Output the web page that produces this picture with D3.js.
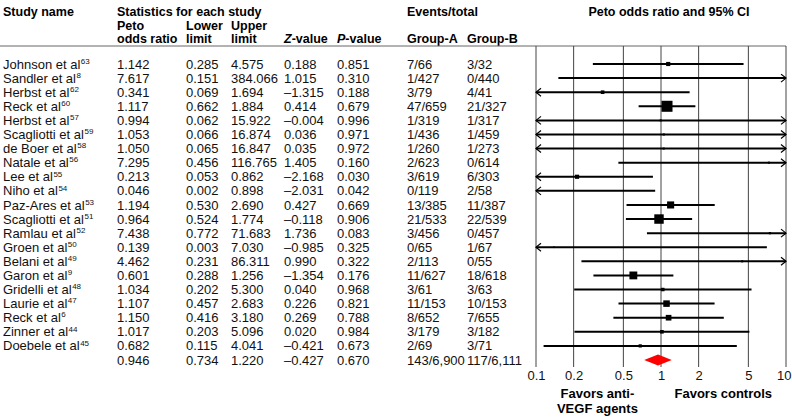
<!DOCTYPE html>
<html>
<head>
<meta charset="utf-8">
<script src="https://cdn.jsdelivr.net/npm/d3@7"></script>
<style>
  body { margin: 0; background: #fff; }
  svg { font-family: "Liberation Sans", Arial, sans-serif; }
  .hdr { font-weight: bold; }
</style>
</head>
<body>
<svg id="chart" width="792" height="417"></svg>
<script>
const studies = ['Johnson et al', 'Sandler et al', 'Herbst et al', 'Reck et al', 'Herbst et al',
  'Scagliotti et al', 'de Boer et al', 'Natale et al', 'Lee et al', 'Niho et al', 'Paz-Ares et al',
  'Scagliotti et al', 'Ramlau et al', 'Groen et al', 'Belani et al', 'Garon et al', 'Gridelli et al',
  'Laurie et al', 'Reck et al', 'Zinner et al', 'Doebele et al'];
const refs = ['63', '8', '62', '60', '57', '59', '58', '56', '55', '54', '53', '51', '52', '50', '49',
  '9', '48', '47', '6', '44', '45'];
const petoOR = [1.142, 7.617, 0.341, 1.117, 0.994, 1.053, 1.050, 7.295, 0.213, 0.046, 1.194, 0.964,
  7.438, 0.139, 4.462, 0.601, 1.034, 1.107, 1.150, 1.017, 0.682];
const lower = [0.285, 0.151, 0.069, 0.662, 0.062, 0.066, 0.065, 0.456, 0.053, 0.002, 0.530, 0.524,
  0.772, 0.003, 0.231, 0.288, 0.202, 0.457, 0.416, 0.203, 0.115];
const upper = [4.575, 384.066, 1.694, 1.884, 15.922, 16.874, 16.847, 116.765, 0.862, 0.898, 2.690,
  1.774, 71.683, 7.030, 86.311, 1.256, 5.300, 2.683, 3.180, 5.096, 4.041];
const zValue = [0.188, 1.015, -1.315, 0.414, -0.004, 0.036, 0.035, 1.405, -2.168, -2.031, 0.427,
  -0.118, 1.736, -0.985, 0.990, -1.354, 0.040, 0.226, 0.269, 0.020, -0.421];
const pValue = [0.851, 0.310, 0.188, 0.679, 0.996, 0.971, 0.972, 0.160, 0.030, 0.042, 0.669, 0.906,
  0.083, 0.325, 0.322, 0.176, 0.968, 0.821, 0.788, 0.984, 0.673];
const groupA = ['7/66', '1/427', '3/79', '47/659', '1/319', '1/436', '1/260', '2/623', '3/619',
  '0/119', '13/385', '21/533', '3/456', '0/65', '2/113', '11/627', '3/61', '11/153', '8/652',
  '3/179', '2/69'];
const groupB = ['3/32', '0/440', '4/41', '21/327', '1/317', '1/459', '1/273', '0/614', '6/303',
  '2/58', '11/387', '22/539', '0/457', '1/67', '0/55', '18/618', '3/63', '10/153', '7/655',
  '3/182', '3/71'];
// relative weights (%)
const weight = [2.0, 0.25, 1.5, 14.0, 0.5, 0.5, 0.5, 0.5, 2.0, 0.3, 5.8, 10.3, 0.6, 0.3, 0.5,
  7.1, 1.4, 4.9, 3.7, 1.5, 1.2];
const summary = {or: 0.946, lower: 0.734, upper: 1.220, z: -0.427, p: 0.670, a: '143/6,900', b: '117/6,111'};
const tickValues = [0.1, 0.2, 0.5, 1, 2, 5, 10];

const svg = d3.select('#chart');
const fs = 13;
const loc = d3.formatLocale({decimal: '.', thousands: ',', grouping: [3], currency: ['', ''], minus: '\u2013'});
const f3 = loc.format('.3f');

// Layout
const col = {name: 3, or: 117, lo: 186, up: 231, z: 284, p: 337, a: 407, b: 467};
const plotL = 536, plotR = 786, topLine = 46, plotBottom = 367;

const rowIdx = d3.range(studies.length + 1);
const y = d3.scaleLinear().domain([0, studies.length]).range([64, 360]);
const x = d3.scaleLog().domain([0.1, 10]).range([plotL, plotR]);

// Headers
const hdr = svg.append('g').attr('class', 'hdr').attr('font-size', 12.5);
function htext(t, xx, yy, anchor) {
  return hdr.append('text').attr('x', xx).attr('y', yy).attr('text-anchor', anchor || 'start').text(t);
}
htext('Study name', col.name, 16);
htext('Statistics for each study', col.or, 16);
htext('Peto', col.or, 29.5);
htext('odds ratio', col.or, 43);
htext('Lower', col.lo, 29.5);
htext('limit', col.lo, 43);
htext('Upper', col.up, 29.5);
htext('limit', col.up, 43);
const zt = htext('', col.z, 43);
zt.append('tspan').attr('font-style', 'italic').text('Z');
zt.append('tspan').text('-value');
const pt = htext('', col.p, 43);
pt.append('tspan').attr('font-style', 'italic').text('P');
pt.append('tspan').text('-value');
htext('Events/total', col.a, 16);
htext('Group-A', col.a, 43);
htext('Group-B', col.b, 43);
htext('Peto odds ratio and 95% CI', 669, 16, 'middle');

svg.append('line').attr('x1', 0).attr('x2', plotR).attr('y1', topLine).attr('y2', topLine)
  .attr('stroke', '#666').attr('stroke-width', 1);

// Table rows
const body = svg.append('g').attr('font-size', fs).attr('fill', '#111');
const rows = body.selectAll('g.row').data(rowIdx).join('g').attr('class', 'row')
  .attr('transform', i => `translate(0,${y(i)})`);

rows.filter(i => i < studies.length).append('text')
  .attr('x', col.name).attr('dy', '0.35em')
  .text(i => studies[i])
  .append('tspan').attr('font-size', 8).attr('dy', '-0.6em').attr('dx', 0.5).text(i => refs[i]);

const cells = [
  ['or', i => i < studies.length ? f3(petoOR[i]) : f3(summary.or)],
  ['lo', i => i < studies.length ? f3(lower[i]) : f3(summary.lower)],
  ['up', i => i < studies.length ? f3(upper[i]) : f3(summary.upper)],
  ['z', i => i < studies.length ? f3(zValue[i]) : f3(summary.z)],
  ['p', i => i < studies.length ? f3(pValue[i]) : f3(summary.p)],
  ['a', i => i < studies.length ? groupA[i] : summary.a],
  ['b', i => i < studies.length ? groupB[i] : summary.b]
];
cells.forEach(([k, fn]) => {
  rows.append('text').attr('x', col[k]).attr('dy', '0.35em').text(fn);
});

// Plot frame and grid
const grid = svg.append('g');
grid.selectAll('line').data(tickValues).join('line')
  .attr('x1', d => x(d)).attr('x2', d => x(d))
  .attr('y1', topLine).attr('y2', plotBottom)
  .attr('stroke', '#444').attr('stroke-width', 1);

// Axis labels
const axis = svg.append('g')
  .attr('transform', `translate(0,${plotBottom})`)
  .call(d3.axisBottom(x).tickValues(tickValues).tickFormat(d3.format('~g')).tickSize(0).tickPadding(4));
axis.select('.domain').remove();
axis.selectAll('text').attr('font-size', fs).attr('font-family', '"Liberation Sans", Arial, sans-serif').attr('fill', '#111');
axis.selectAll('.tick').filter(d => d === 10).select('text').attr('text-anchor', 'end').attr('x', 5);

// CI lines with arrows
const ci = svg.append('g');
const studyRows = d3.range(studies.length);
ci.selectAll('line').data(studyRows).join('line')
  .attr('x1', i => x(Math.max(lower[i], 0.1)))
  .attr('x2', i => x(Math.min(upper[i], 10)))
  .attr('y1', i => y(i)).attr('y2', i => y(i))
  .attr('stroke', '#000').attr('stroke-width', 2);

const aw = 5, ah = 4;
ci.selectAll('path.la').data(studyRows.filter(i => lower[i] < 0.1)).join('path')
  .attr('class', 'la').attr('fill', 'none').attr('stroke', '#000').attr('stroke-width', 1.2)
  .attr('d', i => `M${x(0.1) + aw},${y(i) - ah}L${x(0.1)},${y(i)}L${x(0.1) + aw},${y(i) + ah}`);
ci.selectAll('path.ra').data(studyRows.filter(i => upper[i] > 10)).join('path')
  .attr('class', 'ra').attr('fill', 'none').attr('stroke', '#000').attr('stroke-width', 1.2)
  .attr('d', i => `M${x(10) - aw},${y(i) - ah}L${x(10)},${y(i)}L${x(10) - aw},${y(i) + ah}`);

// Squares
const size = d3.scaleSqrt().domain([0, 14]).range([0, 11]);
ci.selectAll('rect').data(studyRows.filter(i => petoOR[i] >= 0.1 && petoOR[i] <= 10)).join('rect')
  .attr('x', i => x(petoOR[i]) - size(weight[i]) / 2)
  .attr('y', i => y(i) - size(weight[i]) / 2)
  .attr('width', i => size(weight[i]))
  .attr('height', i => size(weight[i]))
  .attr('fill', '#000');

// Summary diamond
const sy = y(studies.length), dh = 5.5;
svg.append('path')
  .attr('d', `M${x(summary.lower)},${sy}L${x(summary.or)},${sy - dh}L${x(summary.upper)},${sy}L${x(summary.or)},${sy + dh}Z`)
  .attr('fill', '#f00');

// Favours labels
const fav = svg.append('g').attr('class', 'hdr').attr('font-size', fs).attr('text-anchor', 'middle');
fav.append('text').attr('x', x(0.31)).attr('y', 398).text('Favors anti-');
fav.append('text').attr('x', x(0.31)).attr('y', 413).text('VEGF agents');
fav.append('text').attr('x', x(3.15)).attr('y', 398).text('Favors controls');
</script>
</body>
</html>
